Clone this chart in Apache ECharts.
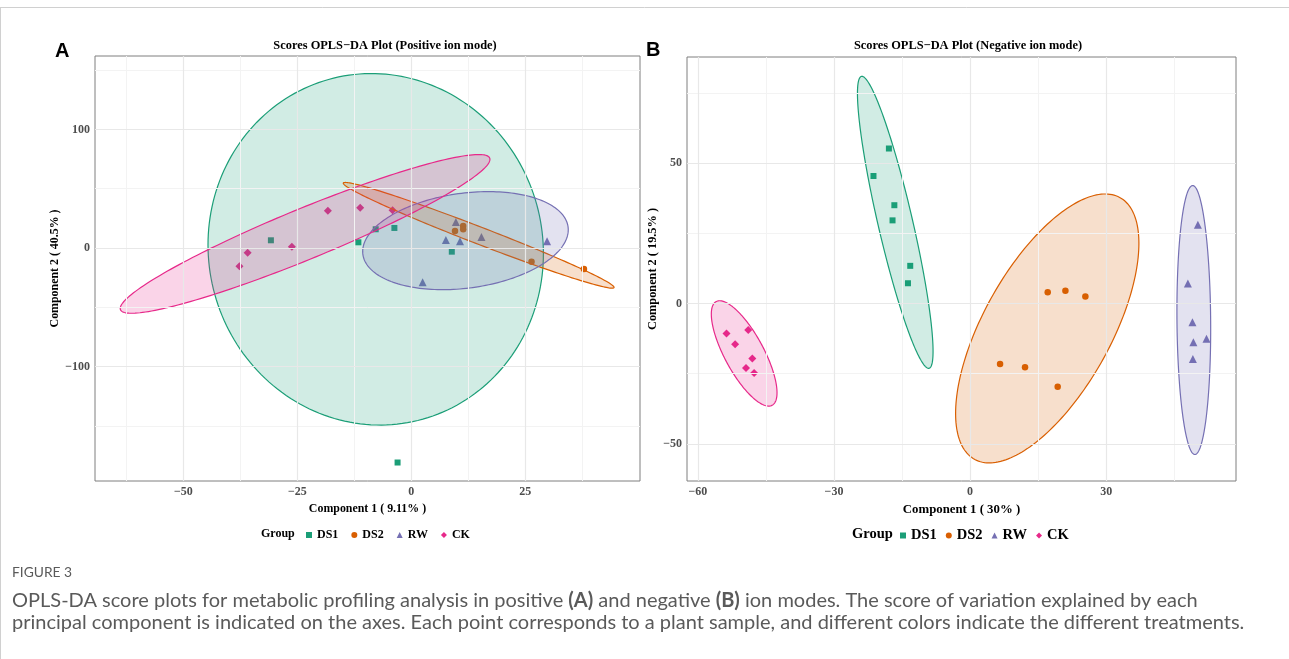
<!DOCTYPE html>
<html><head><meta charset="utf-8">
<script src="https://cdn.jsdelivr.net/npm/echarts@6/dist/echarts.min.js"></script>
<style>html,body{margin:0;padding:0;background:#fff}#c{width:1289px;height:659px}</style>
</head><body><div id="c"></div>
<script>
// ---- groups ----
const groups = ['DS1', 'DS2', 'RW', 'CK'];
const colors = ['#1B9E77', '#D95F02', '#7570B3', '#E7298A'];
const symbols = ['rect', 'circle', 'triangle', 'diamond'];

// ---- Panel A: positive ion mode scores [component1, component2] ----
const posDS1 = [[-30.8, 6.5], [-11.6, 4.8], [-7.8, 15.8], [-3.7, 16.9], [8.9, -3.1], [-3.0, -181]];
const posDS2 = [[9.6, 14.3], [11.4, 18.6], [11.4, 15.8], [26.4, -11.5], [37.9, -17.7]];
const posRW  = [[9.8, 22.0], [7.6, 6.8], [10.7, 5.6], [15.4, 9.3], [29.8, 5.6], [2.5, -28.8]];
const posCK  = [[-37.7, -15.5], [-35.9, -4.0], [-26.2, 1.1], [-18.3, 31.4], [-11.2, 33.9], [-4.1, 31.9]];
// confidence ellipses: [cx, cy, ux, uy, vx, vy]  (centre + two conjugate semi-diameters)
const posEllDS1 = [-7.8, -1.1, -4.7, 147.5, 36.5, 15.2];
const posEllDS2 = [14.8, 10.7, 29.7, -44.1, 0.75, 6.6];
const posEllRW  = [11.9, 6.2, 22.5, 12.0, 1.6, -39.6];
const posEllCK  = [-23.3, 11.9, 40.5, 64.1, 2.35, -19.4];

// ---- Panel B: negative ion mode scores ----
const negDS1 = [[-17.9, 55.2], [-21.3, 45.4], [-16.7, 35.0], [-17.1, 29.6], [-13.2, 13.4], [-13.7, 7.2]];
const negDS2 = [[17.1, 4.0], [21.0, 4.5], [25.4, 2.5], [6.6, -21.6], [12.1, -22.7], [19.3, -29.7]];
const negRW  = [[50.2, 28.0], [48.0, 7.1], [49.0, -6.7], [49.2, -13.8], [52.1, -12.6], [49.1, -19.8]];
const negCK  = [[-53.7, -10.7], [-48.9, -9.5], [-51.8, -14.5], [-48.0, -19.6], [-49.4, -23.0], [-47.6, -24.8]];
const negEllDS1 = [-16.5, 28.9, 7.44, -52.0, 3.75, 1.19];
const negEllDS2 = [17.0, -8.9, 20.2, 30.3, 0, 37.1];
const negEllRW  = [49.3, -5.9, 3.72, -3.1, 0, 47.8];
const negEllCK  = [-49.8, -17.8, 7.24, -14.0, 0, 12.5];

// ---- axis ticks ----
const posXTicks = [-50, -25, 0, 25];
const posYTicks = [-100, 0, 100];
const posXMinor = [-62.5, -37.5, -12.5, 12.5, 37.5];
const posYMinor = [-150, -50, 50, 150];
const negXTicks = [-60, -30, 0, 30];
const negYTicks = [-50, 0, 50];
const negXMinor = [-45, -15, 15, 45];
const negYMinor = [-25, 25, 75];

const posRange = {xmin: -69.4, xmax: 50.2, ymin: -196.6, ymax: 162};
const negRange = {xmin: -62.4, xmax: 58.6, ymin: -63.25, ymax: 87.8};

const SERIF = '"Liberation Serif", "Times New Roman", serif';
const CAP = 'Lato, "Open Sans", sans-serif';
const minus = v => String(v).replace('-', '\u2212');

function rgba(hex, a) {
  const n = parseInt(hex.slice(1), 16);
  return `rgba(${(n >> 16) & 255},${(n >> 8) & 255},${n & 255},${a})`;
}

function makeX(i, r, ticks, name, fs) {
  return {
    type: 'value', gridIndex: i, min: r.xmin, max: r.xmax,
    name: name, nameLocation: 'middle', nameGap: 21,
    nameTextStyle: {fontFamily: SERIF, fontWeight: 'bold', fontSize: fs, color: '#000'},
    axisLine: {show: false},
    axisTick: {show: true, length: 3, lineStyle: {color: '#333'}, customValues: ticks},
    axisLabel: {customValues: ticks, formatter: minus, fontFamily: SERIF, fontWeight: 'bold',
      fontSize: 12, color: '#4d4d4d', margin: 5},
    splitLine: {show: false}
  };
}
function makeY(i, r, ticks, name, fs, gap) {
  return {
    type: 'value', gridIndex: i, min: r.ymin, max: r.ymax,
    name: name, nameLocation: 'middle', nameGap: gap, nameRotate: 90,
    nameTextStyle: {fontFamily: SERIF, fontWeight: 'bold', fontSize: fs, color: '#000'},
    axisLine: {show: false},
    axisTick: {show: true, length: 3, lineStyle: {color: '#333'}, customValues: ticks},
    axisLabel: {customValues: ticks, formatter: minus, fontFamily: SERIF, fontWeight: 'bold',
      fontSize: 12, color: '#4d4d4d', margin: 5},
    splitLine: {show: false}
  };
}

function gridLines(i, xMaj, xMin, yMaj, yMin) {
  const data = [];
  xMin.forEach(v => data.push({xAxis: v, lineStyle: {color: '#f3f3f3', width: 1, type: 'solid'}}));
  yMin.forEach(v => data.push({yAxis: v, lineStyle: {color: '#f3f3f3', width: 1, type: 'solid'}}));
  xMaj.forEach(v => data.push({xAxis: v, lineStyle: {color: '#e8e8e8', width: 1.2, type: 'solid'}}));
  yMaj.forEach(v => data.push({yAxis: v, lineStyle: {color: '#e8e8e8', width: 1.2, type: 'solid'}}));
  return {
    type: 'line', xAxisIndex: i, yAxisIndex: i, data: [], z: 1, silent: true,
    markLine: {silent: true, symbol: ['none', 'none'], label: {show: false}, animation: false, data: data}
  };
}

function scatter(i, g, pts) {
  const k = groups.indexOf(g);
  const size = [6, 6.5, 8, 8][k];
  return {
    type: 'scatter', name: g, xAxisIndex: i, yAxisIndex: i, z: 2, data: pts,
    symbol: symbols[k], symbolSize: size, itemStyle: {color: colors[k], opacity: 1}, silent: true
  };
}

function ellipse(i, g, p) {
  const k = groups.indexOf(g);
  return {
    type: 'custom', name: g, xAxisIndex: i, yAxisIndex: i, z: 3, silent: true, clip: true,
    data: [[p[0], p[1]]],
    renderItem: function (params, api) {
      const pts = [];
      const N = 200;
      for (let j = 0; j < N; j++) {
        const t = j / N * 2 * Math.PI;
        pts.push(api.coord([p[0] + p[2] * Math.cos(t) + p[4] * Math.sin(t),
                            p[1] + p[3] * Math.cos(t) + p[5] * Math.sin(t)]));
      }
      return {type: 'polygon', shape: {points: pts},
        style: {fill: rgba(colors[k], 0.2), stroke: colors[k], lineWidth: 1.2}};
    }
  };
}

function legendData() {
  return groups.map((g, k) => ({name: g, icon: symbols[k], itemStyle: {color: colors[k]}}));
}

const chart = echarts.init(document.getElementById('c'), null, {renderer: 'canvas'});
chart.setOption({
  animation: false,
  backgroundColor: '#fff',
  grid: [
    {left: 95, top: 56, width: 545, height: 425, show: true, borderColor: '#7f7f7f', borderWidth: 1, backgroundColor: 'transparent', z: 4},
    {left: 687, top: 57, width: 549, height: 424, show: true, borderColor: '#7f7f7f', borderWidth: 1, backgroundColor: 'transparent', z: 4}
  ],
  xAxis: [
    makeX(0, posRange, posXTicks, 'Component 1 ( 9.11% )', 11.9),
    makeX(1, negRange, negXTicks, 'Component 1 ( 30% )', 12.8)
  ],
  yAxis: [
    makeY(0, posRange, posYTicks, 'Component 2 ( 40.5% )', 11.9, 27),
    makeY(1, negRange, negYTicks, 'Component 2 ( 19.5% )', 12.3, 24)
  ],
  legend: [
    {data: legendData(), left: 301, top: 524, orient: 'horizontal', itemWidth: 6, itemHeight: 6, itemGap: 13,
      selectedMode: false, textStyle: {fontFamily: SERIF, fontWeight: 'bold', fontSize: 12, color: '#000'}},
    {data: legendData(), left: 895, top: 523, orient: 'horizontal', itemWidth: 6, itemHeight: 6, itemGap: 9,
      selectedMode: false, textStyle: {fontFamily: SERIF, fontWeight: 'bold', fontSize: 14.5, color: '#000'}}
  ],
  graphic: [
    {type: 'line', shape: {x1: 0, y1: 7.5, x2: 1289, y2: 7.5}, style: {stroke: '#d0d0d0', lineWidth: 1}, silent: true},
    {type: 'line', shape: {x1: 0.5, y1: 7, x2: 0.5, y2: 659}, style: {stroke: '#d0d0d0', lineWidth: 1}, silent: true},
    {type: 'text', left: 55, top: 41, style: {text: 'A', font: 'bold 20px "Liberation Sans", Arial, sans-serif', fill: '#000'}},
    {type: 'text', left: 646, top: 40, style: {text: 'B', font: 'bold 20px "Liberation Sans", Arial, sans-serif', fill: '#000'}},
    {type: 'text', x: 385, y: 46, style: {text: 'Scores OPLS\u2212DA Plot (Positive ion mode)', font: 'bold 12.4px ' + SERIF, fill: '#000', align: 'center', verticalAlign: 'middle'}},
    {type: 'text', x: 968, y: 46, style: {text: 'Scores OPLS\u2212DA Plot (Negative ion mode)', font: 'bold 12.4px ' + SERIF, fill: '#000', align: 'center', verticalAlign: 'middle'}},
    {type: 'text', x: 261, y: 534, style: {text: 'Group', font: 'bold 12px ' + SERIF, fill: '#000', verticalAlign: 'middle'}},
    {type: 'text', x: 852, y: 534, style: {text: 'Group', font: 'bold 14.5px ' + SERIF, fill: '#000', verticalAlign: 'middle'}},
    {type: 'text', x: 12, y: 573, style: {text: 'FIGURE 3', font: '13.8px ' + CAP, fill: '#5a5a5a', verticalAlign: 'middle'}},
    {type: 'text', x: 12, y: 601, style: {
      text: 'OPLS-DA score plots for metabolic profiling analysis in positive {b|(A)} and negative {b|(B)} ion modes. The score of variation explained by each',
      font: '20px ' + CAP, fill: '#5a5a5a', verticalAlign: 'middle',
      rich: {b: {fontWeight: 'bold', fontSize: 20, fontFamily: CAP, fill: '#5a5a5a'}}}},
    {type: 'text', x: 12, y: 623, style: {
      text: 'principal component is indicated on the axes. Each point corresponds to a plant sample, and different colors indicate the different treatments.',
      font: '20px ' + CAP, fill: '#5a5a5a', verticalAlign: 'middle'}}
  ],
  series: [
    gridLines(0, posXTicks, posXMinor, posYTicks, posYMinor),
    gridLines(1, negXTicks, negXMinor, negYTicks, negYMinor),
    scatter(0, 'DS1', posDS1), scatter(0, 'DS2', posDS2), scatter(0, 'RW', posRW), scatter(0, 'CK', posCK),
    scatter(1, 'DS1', negDS1), scatter(1, 'DS2', negDS2), scatter(1, 'RW', negRW), scatter(1, 'CK', negCK),
    ellipse(0, 'DS1', posEllDS1), ellipse(0, 'DS2', posEllDS2), ellipse(0, 'RW', posEllRW), ellipse(0, 'CK', posEllCK),
    ellipse(1, 'DS1', negEllDS1), ellipse(1, 'DS2', negEllDS2), ellipse(1, 'RW', negEllRW), ellipse(1, 'CK', negEllCK)
  ]
});
</script></body></html>
